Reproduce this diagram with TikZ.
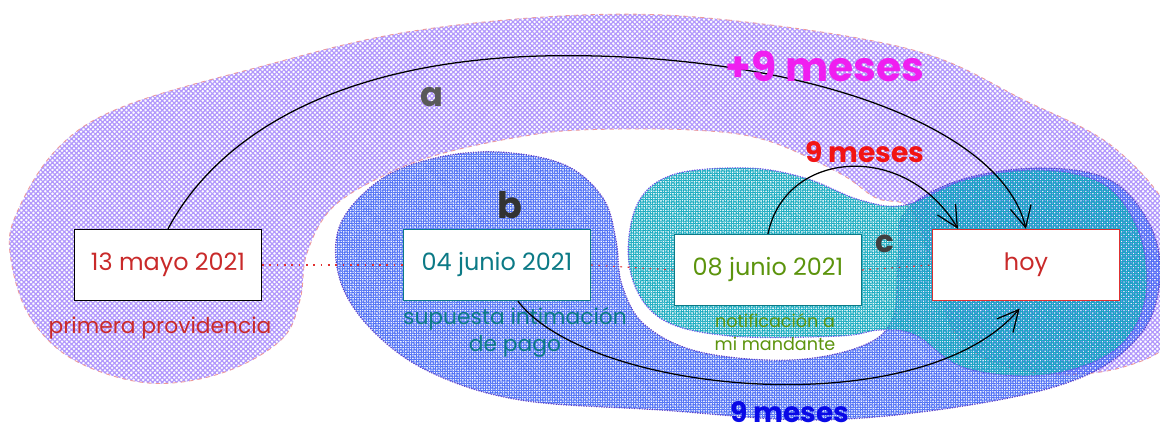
\documentclass[tikz,border=0pt]{standalone}
\usepackage{amsmath}
\usepackage{tikz}
\usepackage{xcolor}
\usepackage{fontspec}
\setmainfont{Poppins}
\usetikzlibrary{positioning, arrows.meta, patterns.meta}

\definecolor{lila}{HTML}{B197FC}
\definecolor{lilaborde}{HTML}{EE9A9A}
\definecolor{azulb}{HTML}{4C6EF5}
\definecolor{azulborde}{HTML}{5F3DC4}
\definecolor{turquesa}{HTML}{15AABF}
\definecolor{turqborde}{HTML}{7048E8}
\definecolor{rojo}{HTML}{C92A2A}
\definecolor{rojobox}{HTML}{E03131}
\definecolor{petroleo}{HTML}{0C7A86}
\definecolor{verde}{HTML}{5C940D}
\definecolor{magenta9}{HTML}{F01EF0}
\definecolor{rojovivo}{HTML}{F21414}
\definecolor{azul9}{HTML}{0A0AE6}

\begin{document}
\begin{tikzpicture}[x=0.025cm, y=-0.025cm,
        datebox/.style={draw, fill=white, line width=0.9pt, minimum width=4.675cm, minimum height=1.775cm, inner sep=0pt, font=\fontsize{17}{20}\selectfont},
        note/.style={align=center, inner sep=0pt, font=\fontsize{15.5}{19}\selectfont},
        letra/.style={inner sep=0pt, font=\fontsize{24}{24}\selectfont\bfseries},
        flecha/.style={-{Straight Barb[length=15pt, width=15pt, line width=0.9pt]}, line width=0.9pt}]
            \useasboundingbox[fill=white] (0, 0) rectangle (1160, 430);

            % manchas
            \draw[lilaborde, dashed, line width=0.6pt, pattern={Hatch[angle=45, distance=2.4pt, line width=0.85pt]}, pattern color=lila]
                plot[smooth cycle, tension=0.6] coordinates {(581, 15) (728, 20) (913, 50) (1024, 100) (1117, 150) (1178, 230) (1178, 330) (1120, 368) (1030, 372) (960, 340) (930, 260) (910, 208) (876, 198) (839, 173) (765, 140) (691, 130) (581, 130) (519, 137) (444, 153) (389, 173) (333, 207) (307, 253) (300, 300) (281, 340) (222, 373) (148, 383) (74, 360) (30, 317) (11, 260) (15, 217) (56, 150) (122, 107) (259, 67) (407, 32)};
            \draw[azulborde, densely dotted, line width=0.8pt, pattern={Hatch[angle=45, distance=2.4pt, line width=1.25pt]}, pattern color=azulb]
                plot[smooth cycle, tension=0.6] coordinates {(500, 152) (565, 165) (603, 198) (616, 240) (622, 285) (645, 325) (700, 352) (790, 360) (862, 346) (893, 318) (898, 260) (905, 212) (960, 180) (1040, 168) (1110, 180) (1150, 225) (1160, 280) (1140, 335) (1080, 378) (970, 405) (820, 420) (660, 410) (520, 400) (430, 372) (372, 330) (340, 280) (340, 225) (380, 180) (435, 158)};
            \draw[turqborde, densely dotted, line width=0.8pt, pattern={Hatch[angle=45, distance=2.4pt, line width=1.25pt]}, pattern color=turquesa]
                plot[smooth cycle, tension=0.6] coordinates {(636, 207) (672, 175) (747, 168) (805, 178) (860, 200) (905, 205) (965, 180) (1040, 170) (1105, 185) (1140, 235) (1145, 300) (1115, 350) (1045, 375) (965, 368) (915, 335) (880, 330) (840, 336) (730, 336) (660, 318) (630, 270)};

            % fechas
            \node[datebox, draw=black, text=rojo] (b13) at (168, 265) {13 mayo 2021};
            \node[datebox, draw=petroleo, text=petroleo] (b04) at (497, 265) {04 junio 2021};
            \node[datebox, draw=petroleo, text=verde] (b08) at (768, 270) {08 junio 2021};
            \node[datebox, draw=rojobox, text=rojo] (hoy) at (1026, 265) {hoy};

            \draw[rojobox, line width=0.8pt, dash pattern=on 1.2pt off 4pt] (b13.east) -- (b04.west);
            \draw[rojobox, line width=0.8pt, dash pattern=on 1.2pt off 4pt] (b04.east) -- (b08.west);
            \draw[rojobox, line width=0.8pt, dash pattern=on 1.2pt off 4pt] (b08.east) -- (hoy.west);

            \node[note, text=rojo] (primera) at (160, 328) {primera providencia};
            \node[note, text=petroleo] (intimacion) at (515, 332) {supuesta intimación\\de pago};
            \node[note, text=verde, font=\fontsize{12.5}{16}\selectfont] (notif) at (775, 332) {notificación a\\mi mandante};

            % plazos
            \draw[flecha] (b13.north) .. controls (215, 140) and (330, 62) .. (540, 56) .. controls (780, 50) and (1000, 120) .. (hoy.north);
            \draw[flecha] (b08.north) .. controls (785, 150) and (905, 140) .. (hoy.152);
            \draw[flecha, shorten >=7pt] (b04.-60) .. controls (590, 395) and (920, 425) .. (hoy.south);

            \node[letra, text=black!65] (la) at (432, 97) {a};
            \node[letra, text=black!80, font=\fontsize{26}{26}\selectfont\bfseries] (lb) at (510, 205) {b};
            \node[letra, text=black!75, font=\fontsize{22}{22}\selectfont\bfseries] (lc) at (885, 244) {c};
            \node[inner sep=0pt, text=magenta9, font=\fontsize{29}{29}\selectfont\bfseries] (mas9) at (825, 66) {+9 meses};
            \node[inner sep=0pt, text=rojovivo, font=\fontsize{20}{20}\selectfont\bfseries] (nueve) at (865, 152) {9 meses};
            \node[inner sep=0pt, text=azul9, font=\fontsize{20}{20}\selectfont\bfseries] (nueveb) at (790, 412) {9 meses};
        \end{tikzpicture}
\end{document}
